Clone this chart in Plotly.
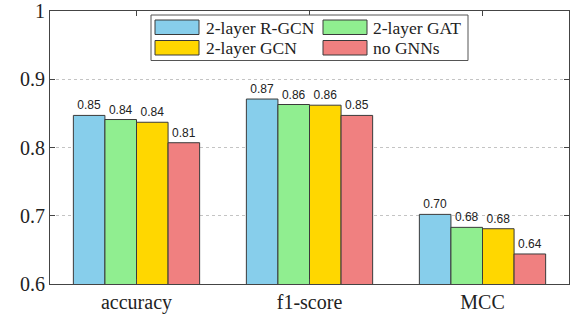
import plotly.graph_objects as go

categories = ["accuracy", "f1-score", "MCC"]
series_names = ["2-layer R-GCN", "2-layer GAT", "2-layer GCN", "no GNNs"]
rgcn = [0.847, 0.871, 0.702]
gat = [0.841, 0.863, 0.683]
gcn = [0.837, 0.862, 0.681]
no_gnn = [0.807, 0.847, 0.644]
colors = ["#87CEEB", "#90EE90", "#FFD700", "#F08080"]
y_ticks = [0.6, 0.7, 0.8, 0.9, 1.0]

SERIF = "Liberation Serif"
SANS = "Liberation Sans"

W, H = 574, 316
L, R, T, B = 50, 5, 11, 32
pw, ph = W - L - R, H - T - B


def px(x):
    return (x - L) / pw


def py(y):
    return 1 - (y - T) / ph


fig = go.Figure()
for name, vals, col in zip(series_names, [rgcn, gat, gcn, no_gnn], colors):
    fig.add_trace(go.Bar(
        x=categories, y=vals, name=name,
        marker=dict(color=col, line=dict(color="#3a3a3a", width=1)),
        text=vals, texttemplate="%{y:.2f}", textposition="outside",
        textfont=dict(family=SANS, size=12, color="#222"),
        cliponaxis=False, showlegend=False,
    ))

# legend drawn as box + swatches + text
shapes = [dict(type="rect", xref="paper", yref="paper",
               x0=px(151), x1=px(468), y0=py(60.5), y1=py(15),
               line=dict(color="#555", width=1), fillcolor="white", layer="above")]
annotations = []
legend_pos = [(155, 20, 204), (323, 20, 371), (155, 40.5, 204), (323, 40.5, 371)]
for (sx, sy, tx), name, col in zip(legend_pos, series_names, colors):
    shapes.append(dict(type="rect", xref="paper", yref="paper",
                       x0=px(sx), x1=px(sx + 44), y0=py(sy + 14.5), y1=py(sy),
                       line=dict(color="#3a3a3a", width=1), fillcolor=col, layer="above"))
    annotations.append(dict(xref="paper", yref="paper", x=px(tx), y=py(sy + 7.5),
                            text=name, showarrow=False, xanchor="left", yanchor="middle",
                            font=dict(family=SERIF, size=17.5, color="#222")))

fig.update_layout(
    width=W, height=H,
    margin=dict(l=L, r=R, t=T, b=B, autoexpand=False),
    paper_bgcolor="white", plot_bgcolor="white",
    barmode="group", bargap=0.27, bargroupgap=0,
    shapes=shapes, annotations=annotations,
    font=dict(family=SERIF, size=20, color="#222"),
)
fig.update_xaxes(
    range=[-0.5, 2.5], showline=True, linecolor="#444", linewidth=1, mirror="ticks",
    ticks="inside", ticklen=5, tickcolor="#444", showgrid=False, automargin=False,
    tickfont=dict(family=SERIF, size=20, color="#222"),
)
fig.update_yaxes(
    range=[0.6, 1.0], tickvals=y_ticks, ticktext=["0.6", "0.7", "0.8", "0.9", "1"],
    showline=True, linecolor="#444", linewidth=1, mirror="ticks",
    ticks="inside", ticklen=5, tickcolor="#444", automargin=False,
    showgrid=True, gridcolor="#c4c4c4", griddash="dot", gridwidth=1,
    tickfont=dict(family=SERIF, size=20, color="#222"),
    zeroline=False,
)
fig.write_html(
    "out.html",
    config={"displayModeBar": False},
    post_script="document.body.style.margin='0';document.body.style.overflow='hidden';",
)
